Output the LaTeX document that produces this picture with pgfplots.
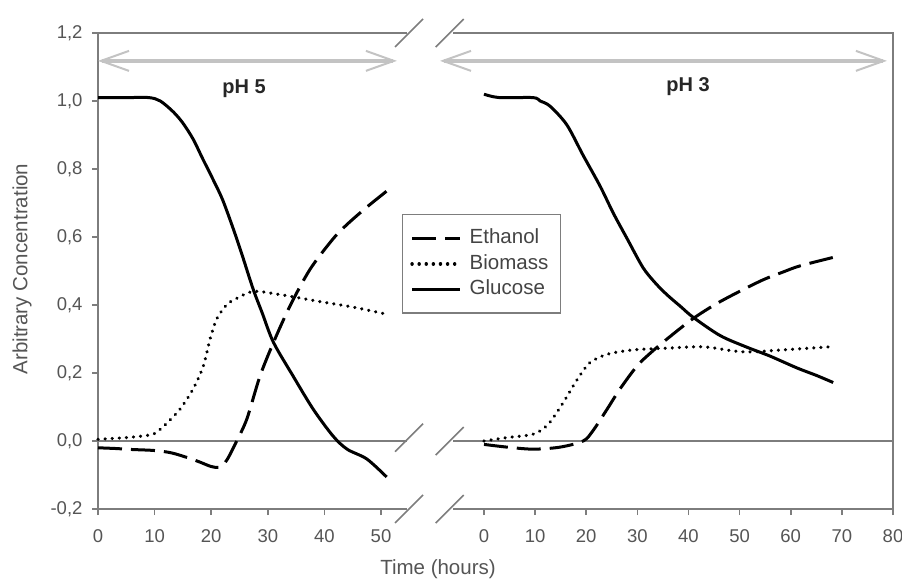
\documentclass[border=0pt]{standalone}
\usepackage{fontspec}
\setmainfont{Liberation Sans}
\usepackage{pgfplots}
\pgfplotsset{compat=1.18}
\usetikzlibrary{arrows.meta}

\definecolor{axgray}{RGB}{125,125,125}
\definecolor{txtgray}{RGB}{85,85,85}
\definecolor{arrowgray}{RGB}{195,195,195}

\tikzset{
  ethanol/.style={dash pattern=on 24pt off 9pt},
  biomass/.style={line width=3.4pt, line cap=round, dash pattern=on 0.1pt off 7pt},
  glucose/.style={solid},
  slash/.style={axgray, line width=1.6pt},
  frame/.style={axgray, line width=2pt},
  range arrow/.style={arrowgray, line width=4pt,
    {Straight Barb[length=28pt,width=20pt,line width=2pt]}-{Straight Barb[length=28pt,width=20pt,line width=2pt]}},
}

\pgfplotsset{
  panel/.style={
    scale only axis, height=476pt, ymin=-0.2, ymax=1.2,
    axis line style={draw=none},
    tick align=outside, xtick pos=bottom, ytick pos=left,
    major tick length=6pt,
    every tick/.style={axgray, line width=1.6pt},
    tick label style={font=\fontsize{18.5}{20}\selectfont, text=txtgray},
    xticklabel style={yshift=-11pt},
    yticklabel style={xshift=-6pt},
    /pgf/number format/assume math mode=true,
    clip=false,
    every axis plot/.append style={black, line width=3pt, smooth, tension=0.5, mark=none},
  },
}

\begin{document}
\begin{tikzpicture}
\useasboundingbox (0pt,0pt) rectangle (902pt,579pt);

% ---------- pH 5 ----------
\begin{axis}[panel, at={(98pt,70pt)}, anchor=south west, width=308.5pt,
  xmin=0, xmax=54.5, xtick={0,10,20,30,40,50},
  ytick={-0.2,0,0.2,0.4,0.6,0.8,1.0,1.2},
  yticklabel style={/pgf/number format/.cd, fixed, fixed zerofill, precision=1, use comma},
  legend cell align=left,
  legend image code/.code={\draw[#1] (0pt,0pt) -- (48pt,0pt);},
  legend style={at={(0.984,0.620)}, anchor=north west, draw=axgray, line width=1.5pt,
    inner xsep=8pt, inner ysep=11pt, column sep=4pt,
    font=\fontsize{20.5}{24}\selectfont, text=txtgray!80!black,
    nodes={inner xsep=4pt, inner ysep=3pt, text height=15pt, text depth=4.5pt}},
]
\draw[frame] (axis cs:54.5,1.2) -- (rel axis cs:0,1) -- (rel axis cs:0,0) -- (axis cs:54.5,-0.2);
\draw[axgray, line width=1.4pt] (axis cs:0,0) -- (axis cs:54.5,0);
\draw[slash] (axis cs:54.95,1.2) +(-14pt,-14pt) -- +(14pt,14pt);
\draw[slash] (axis cs:54.95,0.01) +(-14pt,-14pt) -- +(14pt,14pt);
\draw[slash] (axis cs:54.95,-0.2) +(-14pt,-14pt) -- +(14pt,14pt);
\draw[range arrow] (axis cs:0,1.118) -- (axis cs:52.8,1.118);
\node[font=\bfseries\fontsize{20}{24}\selectfont, text=black!85] at (axis cs:25.8,1.035) {pH 5};

\addplot[ethanol] coordinates {
 (0,-0.02) (3,-0.022) (6,-0.025) (10,-0.028) (13,-0.035) (16,-0.05) (18,-0.062)
 (20,-0.075) (21.5,-0.077) (22.8,-0.055) (24.5,0.0) (26.3,0.065) (28.6,0.19)
 (31,0.29) (34,0.40) (37.5,0.506) (41.5,0.594) (44,0.637) (47.5,0.688) (51,0.735)};
\addlegendentry{Ethanol}
\addplot[biomass] coordinates {
 (0,0.005) (5,0.01) (8,0.015) (10,0.022) (12,0.05) (14.5,0.094) (16.8,0.153)
 (18.6,0.22) (19.8,0.30) (21,0.36) (22.7,0.40) (24,0.415) (27.4,0.44) (31.6,0.432)
 (34.5,0.424) (39.2,0.41) (45,0.394) (50.4,0.375)};
\addlegendentry{Biomass}
\addplot[glucose] coordinates {
 (0,1.01) (5,1.01) (9,1.01) (11,1.0) (13.3,0.968) (15,0.935) (16.8,0.888)
 (18.5,0.83) (20.3,0.77) (22,0.71) (23.9,0.624) (25.5,0.545) (27.4,0.447)
 (29,0.377) (31,0.29) (34.5,0.19) (38,0.094) (41.5,0.015) (44,-0.024) (47.5,-0.053) (51,-0.106)};
\addlegendentry{Glucose}
\end{axis}

% ---------- pH 3 ----------
\begin{axis}[panel, at={(453.3pt,70pt)}, anchor=south west, width=439.7pt,
  xmin=-6, xmax=80, xtick={0,10,20,30,40,50,60,70,80}, ytick=\empty,
]
\draw[frame] (rel axis cs:0,1) -- (rel axis cs:1,1) -- (rel axis cs:1,0) -- (rel axis cs:0,0);
\draw[axgray, line width=1.4pt] (axis cs:-6,0) -- (axis cs:80,0);
\draw[slash] (axis cs:-6.7,1.2) +(-14pt,-14pt) -- +(14pt,14pt);
\draw[slash] (axis cs:-6.7,0) +(-14pt,-14pt) -- +(14pt,14pt);
\draw[slash] (axis cs:-6.7,-0.2) +(-14pt,-14pt) -- +(14pt,14pt);
\draw[range arrow] (axis cs:-8.6,1.118) -- (axis cs:78.8,1.118);
\node[font=\bfseries\fontsize{20}{24}\selectfont, text=black!85] at (axis cs:39.9,1.041) {pH 3};

\addplot[ethanol] coordinates {
 (0,-0.01) (4.5,-0.018) (9.6,-0.024) (14.9,-0.018) (19.4,0.0) (21.3,0.03) (24.1,0.094)
 (26.6,0.153) (29.9,0.22) (32.5,0.258) (35.8,0.30) (40.9,0.36) (46.2,0.41)
 (54,0.47) (58.5,0.497) (61.8,0.515) (68.3,0.54)};
\addplot[biomass] coordinates {
 (0,0.0) (4.5,0.01) (9.6,0.02) (12.3,0.045) (14.3,0.085) (16.2,0.13) (18.2,0.18)
 (20.7,0.23) (24.1,0.255) (29.2,0.268) (35.8,0.273) (42.9,0.277) (48.7,0.265)
 (52,0.262) (58.5,0.268) (67.7,0.277)};
\addplot[glucose] coordinates {
 (0,1.02) (3,1.01) (9.6,1.01) (11,1.0) (12.9,0.985) (16.2,0.93) (19.4,0.84) (22.7,0.75)
 (25.3,0.67) (28,0.595) (31.1,0.51) (33.5,0.465) (35.8,0.43) (38.5,0.395) (40.9,0.364)
 (46.2,0.31) (51.4,0.276) (55.9,0.25) (61.2,0.215) (65,0.193) (68.3,0.172)};
\end{axis}

\node[rotate=90, font=\fontsize{20.5}{24}\selectfont, text=txtgray] at (22pt,310pt) {Arbitrary Concentration};
\node[font=\fontsize{20.5}{24}\selectfont, text=txtgray] at (438pt,10pt) {Time (hours)};
\end{tikzpicture}
\end{document}
